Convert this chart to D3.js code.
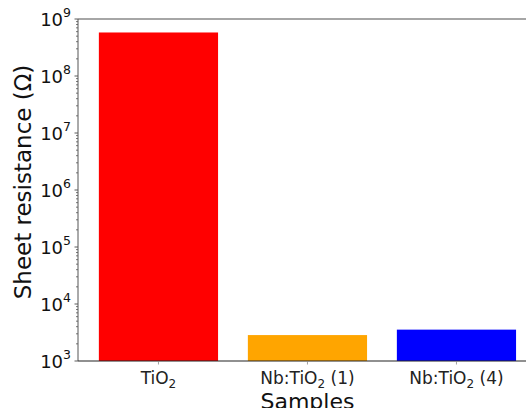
<!DOCTYPE html>
<html>
<head>
<meta charset="utf-8">
<script src="https://cdn.jsdelivr.net/npm/d3@7"></script>
<style>
  body { margin: 0; background: #fff; }
  svg { display: block; font-family: "DejaVu Sans", sans-serif; }
</style>
</head>
<body>
<svg id="chart" width="526" height="408"></svg>
<script>
// data
var samples = ["TiO2", "Nb:TiO2 (1)", "Nb:TiO2 (4)"];
var resistance = [5.8e8, 2.85e3, 3.55e3];
var barColors = ["#ff0000", "#ffa500", "#0000ff"];
var yTicks = [1e3, 1e4, 1e5, 1e6, 1e7, 1e8, 1e9];

var svg = d3.select('#chart');

var plotLeft = 78, plotTop = 19, plotBottom = 361;

// matplotlib style x limits: -0.54 .. 2.54, 149px per category
var x = d3.scaleLinear().domain([-0.54, 2.54]).range([plotLeft, plotLeft + 3.08 * 149]);
var y = d3.scaleLog().domain([1e3, 1e9]).range([plotBottom, plotTop]);

// bars
svg.selectAll('rect.bar')
    .data(resistance)
    .enter()
    .append('rect')
    .attr('class', 'bar')
    .attr('x', (d, i) => x(i - 0.4))
    .attr('width', (d, i) => x(i + 0.4) - x(i - 0.4))
    .attr('y', d => y(d))
    .attr('height', d => plotBottom - y(d))
    .attr('fill', (d, i) => barColors[i]);

// top spine (grey)
svg.append('line')
    .attr('x1', plotLeft).attr('x2', 526)
    .attr('y1', plotTop).attr('y2', plotTop)
    .attr('stroke', '#a6a6a6').attr('stroke-width', 2);

// minor ticks
var minor = [];
for (var e = 3; e < 9; e++) {
    for (var m = 2; m <= 9; m++) minor.push(m * Math.pow(10, e));
}
svg.selectAll('line.minor')
    .data(minor)
    .enter()
    .append('line')
    .attr('x1', plotLeft - 2).attr('x2', plotLeft)
    .attr('y1', d => y(d)).attr('y2', d => y(d))
    .attr('stroke', '#555').attr('stroke-width', 0.8);

// major ticks
svg.selectAll('line.major')
    .data(yTicks)
    .enter()
    .append('line')
    .attr('x1', plotLeft - 3.5).attr('x2', plotLeft)
    .attr('y1', d => y(d)).attr('y2', d => y(d))
    .attr('stroke', '#333').attr('stroke-width', 0.8);

// y tick labels 10^n
var ylab = svg.selectAll('text.ytick')
    .data(yTicks)
    .enter()
    .append('text')
    .attr('x', plotLeft - 7)
    .attr('y', d => y(d) + 7)
    .attr('text-anchor', 'end')
    .attr('font-size', 18)
    .attr('fill', '#111');
ylab.append('tspan').text('10');
ylab.append('tspan')
    .attr('dy', -9)
    .attr('font-size', 12.5)
    .text(d => Math.round(Math.log10(d)));

// left spine
svg.append('line')
    .attr('x1', plotLeft).attr('x2', plotLeft)
    .attr('y1', plotTop).attr('y2', plotBottom)
    .attr('stroke', '#555').attr('stroke-width', 1);

// bottom spine
svg.append('line')
    .attr('x1', plotLeft).attr('x2', 526)
    .attr('y1', plotBottom).attr('y2', plotBottom)
    .attr('stroke', '#222').attr('stroke-width', 1.2);

// x ticks
svg.selectAll('line.xtick')
    .data(samples)
    .enter()
    .append('line')
    .attr('x1', (d, i) => x(i)).attr('x2', (d, i) => x(i))
    .attr('y1', plotBottom).attr('y2', plotBottom + 3.5)
    .attr('stroke', '#888').attr('stroke-width', 0.8);

// x tick labels with subscript 2
var xlab = svg.selectAll('text.xtick')
    .data(samples)
    .enter()
    .append('text')
    .attr('x', (d, i) => x(i))
    .attr('y', plotBottom + 23)
    .attr('text-anchor', 'middle')
    .attr('font-size', 17)
    .attr('fill', '#222');
xlab.each(function(d) {
    var t = d3.select(this);
    var k = d.indexOf('2');
    t.append('tspan').text(d.slice(0, k));
    t.append('tspan').attr('dy', 4).attr('font-size', 12).text('2');
    if (k + 1 < d.length) t.append('tspan').attr('dy', -4).text(d.slice(k + 1));
});

// axis titles
svg.append('text')
    .attr('x', x(1))
    .attr('y', 409)
    .attr('text-anchor', 'middle')
    .attr('font-size', 22)
    .attr('fill', '#111')
    .text('Samples');

svg.append('text')
    .attr('transform', 'translate(31,182) rotate(-90)')
    .attr('text-anchor', 'middle')
    .attr('font-size', 23)
    .attr('fill', '#111')
    .text('Sheet resistance (Ω)');
</script>
</body>
</html>
